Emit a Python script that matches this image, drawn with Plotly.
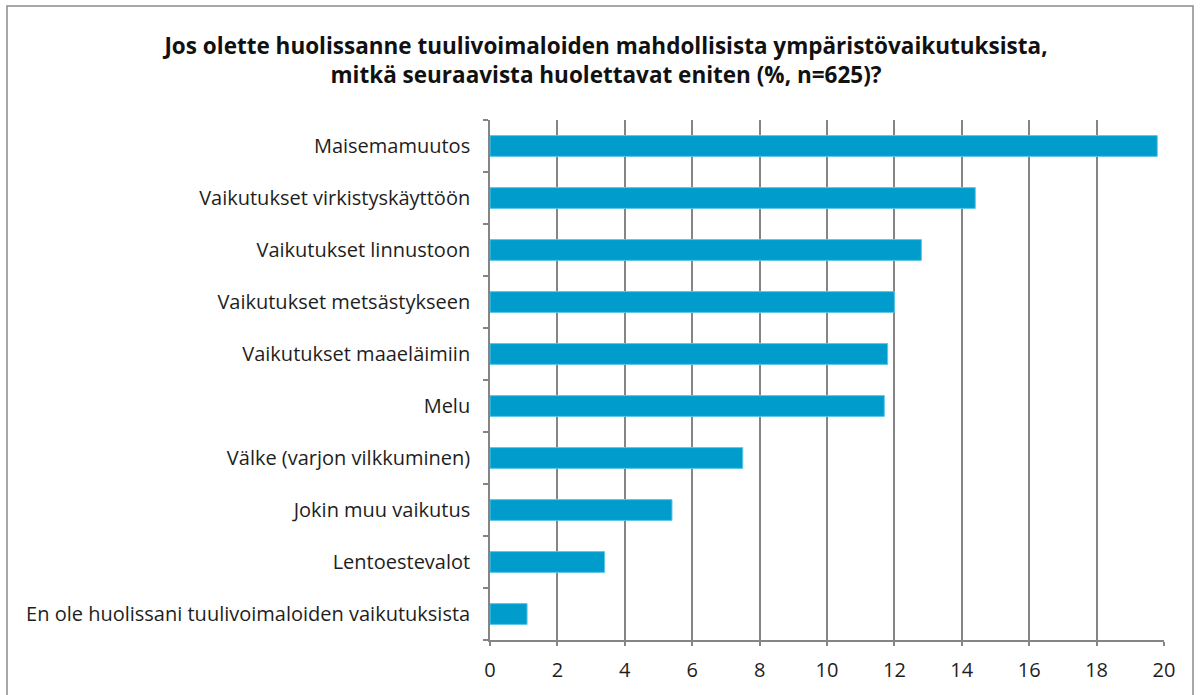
import plotly.graph_objects as go

categories = [
    "Maisemamuutos",
    "Vaikutukset virkistyskäyttöön",
    "Vaikutukset linnustoon",
    "Vaikutukset metsästykseen",
    "Vaikutukset maaeläimiin",
    "Melu",
    "Välke (varjon vilkkuminen)",
    "Jokin muu vaikutus",
    "Lentoestevalot",
    "En ole huolissani tuulivoimaloiden vaikutuksista",
]
values = [19.8, 14.4, 12.8, 12.0, 11.8, 11.7, 7.5, 5.4, 3.4, 1.1]
x_ticks = [0, 2, 4, 6, 8, 10, 12, 14, 16, 18, 20]

title_text = ("Jos olette huolissanne tuulivoimaloiden mahdollisista ympäristövaikutuksista,"
              "<br>mitkä seuraavista huolettavat eniten (%, n=625)?")

GRID = "#858585"
FONT = "Open Sans"
TXT = "#1e1e1e"

fig = go.Figure()
fig.add_trace(go.Bar(
    x=values,
    y=categories,
    orientation="h",
    marker=dict(color="#009CCB", line=dict(color="#5CC6EA", width=1)),
    width=0.4,
    hoverinfo="x+y",
))

W, H = 1200, 695
L, R, T, B = 490, 36, 120, 55
pw = W - L - R
ph = H - T - B

fig.update_layout(
    width=W, height=H,
    margin=dict(l=L, r=R, t=T, b=B, pad=0),
    paper_bgcolor="white",
    plot_bgcolor="white",
    showlegend=False,
    title=dict(
        text="<b>" + title_text + "</b>",
        x=606 / W, xanchor="center",
        y=1 - 54 / H, yanchor="middle",
        font=dict(family=FONT, size=22.5, color="#111111"),
    ),
    font=dict(family=FONT, size=20, color=TXT),
    xaxis=dict(
        range=[0, 20],
        tickvals=x_ticks,
        showgrid=True, gridcolor=GRID, gridwidth=1.6,
        showline=True, linecolor=GRID, linewidth=1.6,
        ticks="outside", ticklen=4, tickcolor=GRID, tickwidth=1.6,
        ticklabelstandoff=7,
        tickfont=dict(family=FONT, size=20, color=TXT),
        zeroline=False,
        fixedrange=True,
    ),
    yaxis=dict(
        categoryorder="array",
        categoryarray=categories[::-1],
        showgrid=False,
        showline=True, linecolor=GRID, linewidth=1.6,
        ticks="outside", ticklen=5, tickcolor=GRID, tickwidth=1.6,
        tickson="boundaries",
        ticklabelstandoff=14,
        tickfont=dict(family=FONT, size=20, color=TXT),
        zeroline=False,
        fixedrange=True,
    ),
    shapes=[dict(
        type="rect", xref="paper", yref="paper",
        x0=(7 - L) / pw, x1=(1193 - L) / pw,
        y0=(H - B - 702) / ph, y1=(H - B - 6) / ph,
        line=dict(color="#8C8C8C", width=1.5),
        fillcolor="rgba(0,0,0,0)",
        layer="below",
    )],
)

fig.write_html("out.html", config={"displayModeBar": False},
               post_script="document.body.style.margin='0';")
